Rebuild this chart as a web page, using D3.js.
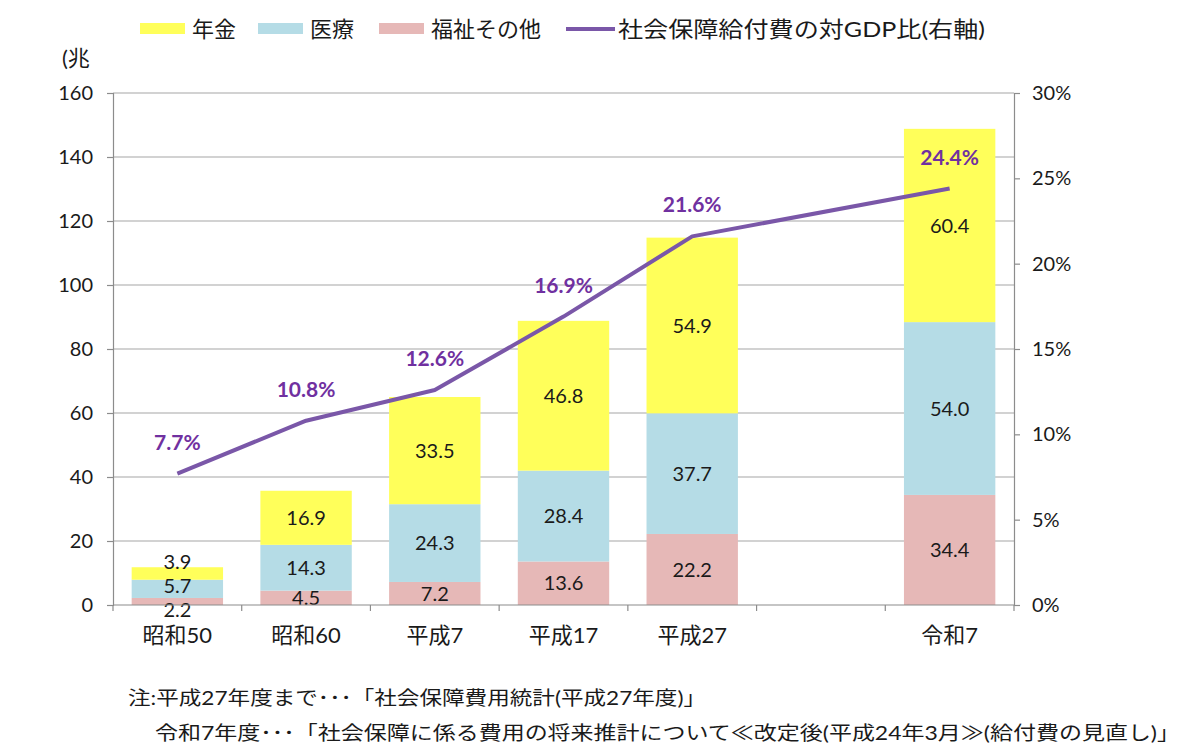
<!DOCTYPE html>
<html><head><meta charset="utf-8">
<script src="https://cdn.jsdelivr.net/npm/d3@7"></script>
<style>
body{margin:0;background:#fff;}
svg{display:block;}
text{font-family:Lato,"Noto Sans CJK JP",sans-serif;}
</style></head>
<body>
<svg id="c" width="1200" height="754"></svg>
<script>
const categories = ["昭和50","昭和60","平成7","平成17","平成27","","令和7"];
const welfare = [2.2, 4.5, 7.2, 13.6, 22.2, null, 34.4];
const medical = [5.7, 14.3, 24.3, 28.4, 37.7, null, 54.0];
const pension = [3.9, 16.9, 33.5, 46.8, 54.9, null, 60.4];
const gdpRatio = [7.7, 10.8, 12.6, 16.9, 21.6, null, 24.4];
const leftTicks = [0,20,40,60,80,100,120,140,160];
const rightTicks = [0,5,10,15,20,25,30];
const seriesNames = ["年金","医療","福祉その他"];
const lineName = "社会保障給付費の対GDP比(右軸)";
const notes = ["注:平成27年度まで･･･「社会保障費用統計(平成27年度)」",
               "令和7年度･･･「社会保障に係る費用の将来推計について≪改定後(平成24年3月≫(給付費の見直し)」"];

const colors = {"年金":"#FFFF5A","医療":"#B5DCE6","福祉その他":"#E6B8B7", line:"#7A57A8", pct:"#7030A0"};
const FONT = 'Lato,"Noto Sans CJK JP",sans-serif';

const svg = d3.select("#c");
const L = 113, R = 1014, T = 93, B = 605;

const x = d3.scaleBand().domain(categories.map((c,i)=>i)).range([L,R]).paddingInner(0.29).paddingOuter(0.145);
const xb = d3.scaleBand().domain(categories.map((c,i)=>i)).range([L,R]);
const y = d3.scaleLinear().domain([0,160]).range([B,T]);
const y2 = d3.scaleLinear().domain([0,30]).range([B,T]);

// gridlines
svg.append("g").selectAll("line").data(leftTicks.filter(d=>d>0)).join("line")
  .attr("x1",L).attr("x2",R).attr("y1",d=>y(d)).attr("y2",d=>y(d))
  .attr("stroke","#A6A6A6").attr("stroke-width",1.2);

// stacked bars
const keys = ["福祉その他","医療","年金"];
const rows = categories.map((c,i)=>({i, "福祉その他":welfare[i], "医療":medical[i], "年金":pension[i]})).filter(r=>r["年金"]!=null);
const stack = d3.stack().keys(keys)(rows);
const gBars = svg.append("g");
stack.forEach(layer=>{
  gBars.selectAll(null).data(layer).join("rect")
    .attr("x",d=>x(d.data.i)).attr("width",x.bandwidth())
    .attr("y",d=>y(d[1])).attr("height",d=>y(d[0])-y(d[1]))
    .attr("fill",colors[layer.key]);
});
// data labels with simple de-overlap per bar
const labels = [];
rows.forEach((r,ri)=>{
  const ls = stack.map(layer=>({key:layer.key, v:r[layer.key], cx:x(r.i)+x.bandwidth()/2,
     cy:(y(layer[ri][0])+y(layer[ri][1]))/2}));
  const gap = 24, maxY = B + 5;
  for(let it=0; it<80; it++){
    for(let k=0;k<ls.length-1;k++){
      const d = ls[k].cy - ls[k+1].cy;
      if(d<gap){ const s=(gap-d)/2; ls[k].cy+=s; ls[k+1].cy-=s; }
    }
    if(ls[0].cy>maxY){ const s=ls[0].cy-maxY; ls.forEach(l=>{ if(l.cy>maxY-gap*3) l.cy-=s; }); }
  }
  labels.push(...ls);
});
gBars.selectAll("text.dl").data(labels).join("text").attr("class","dl")
  .attr("x",d=>d.cx).attr("y",d=>d.cy)
  .attr("dy","0.36em").attr("text-anchor","middle")
  .attr("font-size",20).attr("fill","#1a1a1a")
  .text(d=>d.v.toFixed(1));

// axes
const axL = d3.axisLeft(y).tickValues(leftTicks).tickSize(6).tickPadding(14);
const gL = svg.append("g").attr("transform",`translate(${L},0)`).call(axL);
const axR = d3.axisRight(y2).tickValues(rightTicks).tickSize(6).tickPadding(12).tickFormat(d=>d+"%");
const gR = svg.append("g").attr("transform",`translate(${R},0)`).call(axR);
const axB = d3.axisBottom(xb).tickSize(0).tickPadding(22).tickFormat(i=>categories[i]);
const gB = svg.append("g").attr("transform",`translate(0,${B})`).call(axB);
// bottom tick marks at band boundaries
svg.append("g").selectAll("line").data(d3.range(categories.length+1)).join("line")
  .attr("x1",i=>L+i*xb.step()).attr("x2",i=>L+i*xb.step())
  .attr("y1",B).attr("y2",B+6).attr("stroke","#8C8C8C").attr("stroke-width",1.2);
[gL,gR,gB].forEach(g=>{
  g.select(".domain").attr("stroke","#8C8C8C").attr("stroke-width",1.2);
  g.selectAll(".tick line").attr("stroke","#8C8C8C").attr("stroke-width",1.2);
  g.selectAll(".tick text").attr("font-size",20).attr("fill","#1a1a1a").style("font-family",FONT);
});
gB.select(".domain").attr("d",`M${L},0H${R}`);
gB.selectAll(".tick text").attr("font-size",22);

svg.append("text").attr("x",62).attr("y",66).attr("font-size",22).attr("fill","#1a1a1a").text("(兆");

// line
const pts = categories.map((c,i)=>({i,v:gdpRatio[i]})).filter(d=>d.v!=null);
const line = d3.line().x(d=>xb(d.i)+xb.bandwidth()/2).y(d=>y2(d.v));
svg.append("path").datum(pts).attr("d",line).attr("fill","none")
  .attr("stroke",colors.line).attr("stroke-width",4).attr("stroke-linejoin","round");
svg.append("g").selectAll("text").data(pts).join("text")
  .attr("x",d=>xb(d.i)+xb.bandwidth()/2).attr("y",d=>y2(d.v)-24)
  .attr("text-anchor","middle").attr("font-size",21).attr("font-weight","bold")
  .attr("fill",colors.pct).text(d=>d.v.toFixed(1)+"%");

// legend
const leg = svg.append("g");
const legItems = [
  {name:seriesNames[0], x:140, type:"rect"},
  {name:seriesNames[1], x:258, type:"rect"},
  {name:seriesNames[2], x:379, type:"rect"},
  {name:lineName, x:566, type:"line", w:367}
];
legItems.forEach(it=>{
  if(it.type==="rect"){
    leg.append("rect").attr("x",it.x).attr("y",23).attr("width",45).attr("height",11).attr("fill",colors[it.name]);
  } else {
    leg.append("line").attr("x1",it.x).attr("x2",it.x+49).attr("y1",29).attr("y2",29)
      .attr("stroke",colors.line).attr("stroke-width",4);
  }
  const t = leg.append("text").attr("x",it.x+52).attr("y",29).attr("dy","0.36em")
    .attr("font-size",22).attr("fill","#1a1a1a").text(it.name);
  if(it.w) t.attr("textLength",it.w).attr("lengthAdjust","spacingAndGlyphs");
});

// notes
svg.append("text").attr("x",128).attr("y",705).attr("font-size",19).attr("fill","#1a1a1a")
  .attr("textLength",578).attr("lengthAdjust","spacingAndGlyphs").text(notes[0]);
svg.append("text").attr("x",155).attr("y",740).attr("font-size",19).attr("fill","#1a1a1a")
  .attr("textLength",1025).attr("lengthAdjust","spacingAndGlyphs").text(notes[1]);
</script>
</body></html>
